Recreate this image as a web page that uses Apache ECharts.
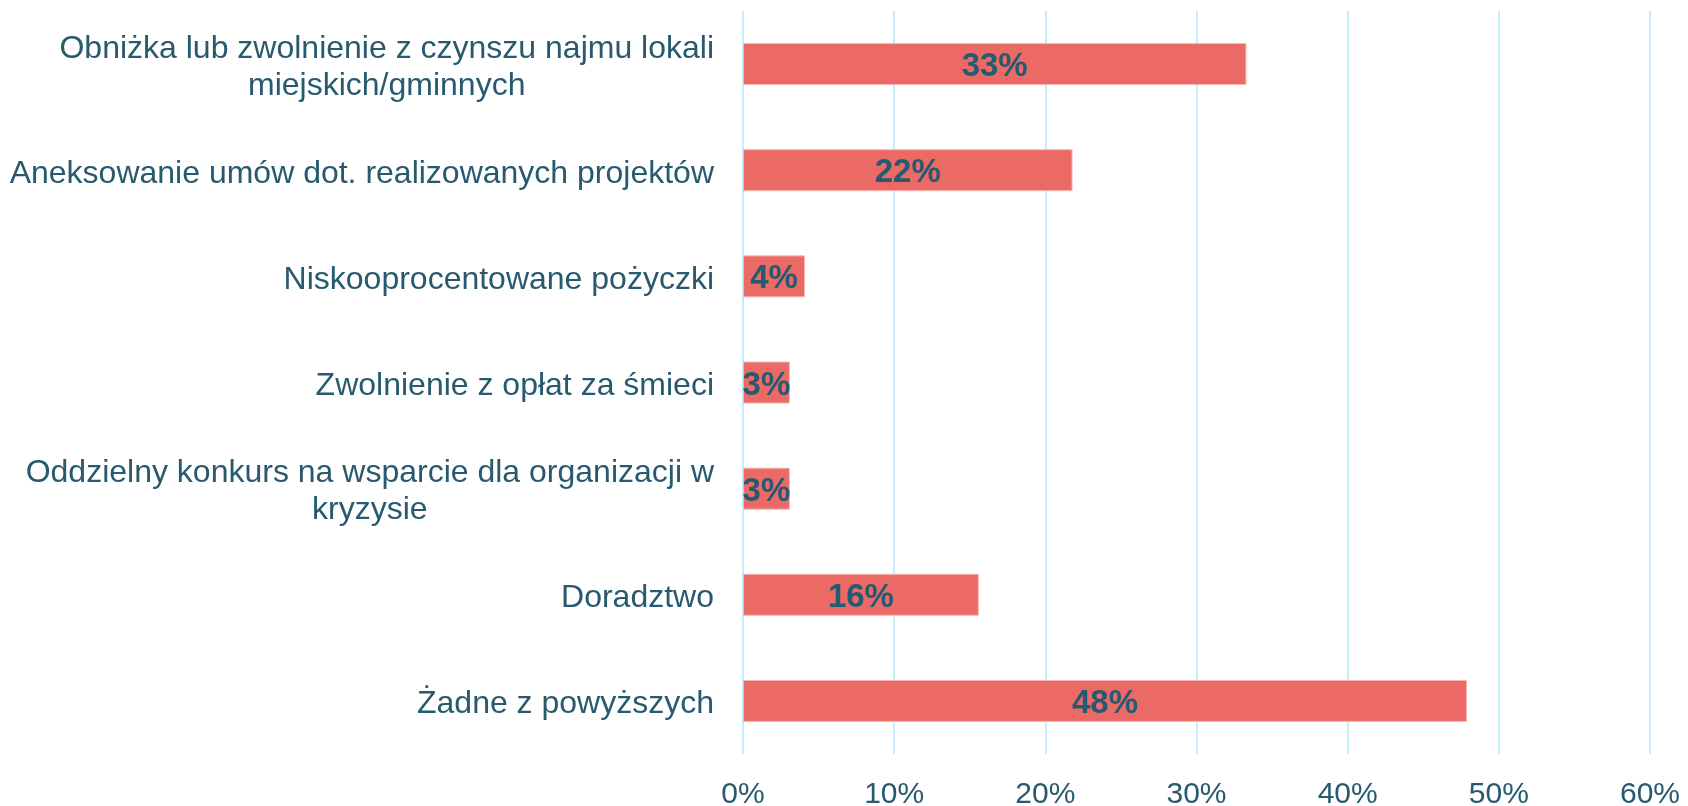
<!DOCTYPE html>
<html>
<head>
<meta charset="utf-8">
<script src="https://cdn.jsdelivr.net/npm/echarts@6/dist/echarts.min.js"></script>
<style>
  html, body { margin: 0; padding: 0; background: #fff; }
  #chart { width: 1688px; height: 806px; }
</style>
</head>
<body>
<div id="chart"></div>
<script>
// categories, top to bottom
var categories = [
  'Obniżka lub zwolnienie z czynszu najmu lokali\nmiejskich/gminnych',
  'Aneksowanie umów dot. realizowanych projektów',
  'Niskooprocentowane pożyczki',
  'Zwolnienie z opłat za śmieci',
  'Oddzielny konkurs na wsparcie dla organizacji w\nkryzysie',
  'Doradztwo',
  'Żadne z powyższych'
];
var shares = [0.333, 0.218, 0.041, 0.031, 0.031, 0.156, 0.479];
var xTicks = [0, 0.1, 0.2, 0.3, 0.4, 0.5, 0.6];

var textColor = '#27596f';
var font = 'Liberation Sans, Arial, sans-serif';

var chart = echarts.init(document.getElementById('chart'));
chart.setOption({
  animation: false,
  grid: { left: 743, right: 38, top: 11, bottom: 52, containLabel: false, outerBoundsMode: 'none' },
  xAxis: {
    type: 'value',
    min: xTicks[0],
    max: xTicks[xTicks.length - 1],
    interval: 0.1,
    axisLine: { show: false },
    axisTick: { show: false },
    splitLine: { lineStyle: { color: '#c4eefa', width: 2 } },
    axisLabel: {
      margin: 26,
      color: textColor,
      fontFamily: font,
      fontSize: 30,
      formatter: function (v) { return Math.round(v * 100) + '%'; }
    }
  },
  yAxis: {
    type: 'category',
    inverse: true,
    data: categories,
    axisLine: { show: false },
    axisTick: { show: false },
    axisLabel: {
      margin: 29,
      color: textColor,
      fontFamily: font,
      fontSize: 32,
      lineHeight: 37,
      padding: [7, 0, 0, 0],
      formatter: function (v) {
        return v.split('\n').map(function (s) { return '{c|' + s + '}'; }).join('\n');
      },
      rich: {
        c: {
          align: 'center',
          color: textColor,
          fontFamily: font,
          fontSize: 32,
          lineHeight: 37
        }
      }
    }
  },
  series: [{
    type: 'bar',
    data: shares,
    barWidth: 42,
    itemStyle: { color: '#eb6a65', borderColor: '#f6b6b3', borderWidth: 1 },
    label: {
      show: true,
      position: 'inside',
      offset: [0, 3],
      color: '#245a72',
      fontFamily: font,
      fontWeight: 'bold',
      fontSize: 33,
      formatter: function (p) { return Math.round(p.value * 100) + '%'; }
    }
  }]
});
</script>
</body>
</html>
